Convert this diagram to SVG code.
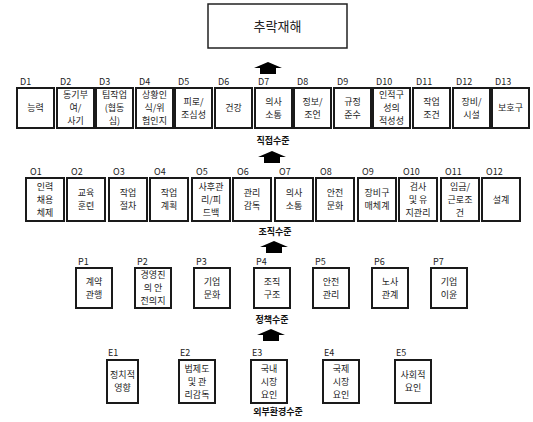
<svg xmlns="http://www.w3.org/2000/svg" width="533" height="422" viewBox="0 0 533 422">
<style>
.b{fill:#fff;stroke:#1a1a1a;stroke-width:2}
.t{font-family:"Noto Sans CJK KR","Noto Sans",sans-serif;font-size:9px;fill:#222;text-anchor:middle}
.l{font-family:"Noto Sans CJK KR","Noto Sans",sans-serif;font-size:9px;fill:#222}
.h{font-family:"Noto Sans CJK KR","Noto Sans",sans-serif;font-size:9px;font-weight:bold;fill:#111;text-anchor:middle}
.a{fill:#000}
</style>
<defs>
<polygon id="arr" points="0,0 14,6 8,6 8,12 -8,12 -8,6 -14,6"/>
</defs>
<rect width="533" height="422" fill="#fff"/>
<g id="top">
<rect x="208" y="4" width="139" height="44" fill="#fff" stroke="#222" stroke-width="1.5"/>
<text x="277.5" y="30.5" class="t" style="font-size:13px">추락재해</text>
</g>
<g id="connectors">
<use href="#arr" x="268" y="62" class="a"/>
<use href="#arr" x="272" y="151" class="a"/>
<use href="#arr" x="274" y="241" class="a"/>
<use href="#arr" x="271" y="329" class="a"/>
</g>
<g id="levels">
<text x="273" y="144" class="h">직접수준</text>
<text x="275" y="235" class="h">조직수준</text>
<text x="272" y="323" class="h">정책수준</text>
<text x="278" y="415" class="h">외부환경수준</text>
</g>
<g id="D1"><text x="20" y="85" class="l">D1</text><rect x="17" y="88" width="37" height="40" class="b"/><text x="35.5" y="111.3" class="t">능력</text></g>
<g id="D2"><text x="60" y="85" class="l">D2</text><rect x="57" y="88" width="37" height="40" class="b"/><text class="t"><tspan x="75.5" y="98.3">동기부</tspan><tspan x="75.5" y="111.3">여/</tspan><tspan x="75.5" y="124.3">사기</tspan></text></g>
<g id="D3"><text x="99" y="85" class="l">D3</text><rect x="96" y="88" width="37" height="40" class="b"/><text class="t"><tspan x="114.5" y="98.3">팀작업</tspan><tspan x="114.5" y="111.3">(협동</tspan><tspan x="114.5" y="124.3">심)</tspan></text></g>
<g id="D4"><text x="139" y="85" class="l">D4</text><rect x="136" y="88" width="37" height="40" class="b"/><text class="t"><tspan x="154.5" y="98.3">상황인</tspan><tspan x="154.5" y="111.3">식/위</tspan><tspan x="154.5" y="124.3">험인지</tspan></text></g>
<g id="D5"><text x="178" y="85" class="l">D5</text><rect x="175" y="88" width="37" height="40" class="b"/><text class="t"><tspan x="193.5" y="104.8">피로/</tspan><tspan x="193.5" y="117.8">조심성</tspan></text></g>
<g id="D6"><text x="218" y="85" class="l">D6</text><rect x="215" y="88" width="37" height="40" class="b"/><text x="233.5" y="111.3" class="t">건강</text></g>
<g id="D7"><text x="258" y="85" class="l">D7</text><rect x="255" y="88" width="37" height="40" class="b"/><text class="t"><tspan x="273.5" y="104.8">의사</tspan><tspan x="273.5" y="117.8">소통</tspan></text></g>
<g id="D8"><text x="297" y="85" class="l">D8</text><rect x="294" y="88" width="37" height="40" class="b"/><text class="t"><tspan x="312.5" y="104.8">정보/</tspan><tspan x="312.5" y="117.8">조언</tspan></text></g>
<g id="D9"><text x="337" y="85" class="l">D9</text><rect x="334" y="88" width="37" height="40" class="b"/><text class="t"><tspan x="352.5" y="104.8">규정</tspan><tspan x="352.5" y="117.8">준수</tspan></text></g>
<g id="D10"><text x="376" y="85" class="l">D10</text><rect x="373" y="88" width="37" height="40" class="b"/><text class="t"><tspan x="391.5" y="98.3">인적구</tspan><tspan x="391.5" y="111.3">성의</tspan><tspan x="391.5" y="124.3">적성성</tspan></text></g>
<g id="D11"><text x="416" y="85" class="l">D11</text><rect x="413" y="88" width="37" height="40" class="b"/><text class="t"><tspan x="431.5" y="104.8">작업</tspan><tspan x="431.5" y="117.8">조건</tspan></text></g>
<g id="D12"><text x="456" y="85" class="l">D12</text><rect x="453" y="88" width="37" height="40" class="b"/><text class="t"><tspan x="471.5" y="104.8">장비/</tspan><tspan x="471.5" y="117.8">시설</tspan></text></g>
<g id="D13"><text x="495" y="85" class="l">D13</text><rect x="492" y="88" width="37" height="40" class="b"/><text x="510.5" y="111.3" class="t">보호구</text></g>
<g id="O1"><text x="30" y="175" class="l">O1</text><rect x="26" y="178" width="38" height="43" class="b"/><text class="t"><tspan x="45" y="189.8">인력</tspan><tspan x="45" y="202.8">채용</tspan><tspan x="45" y="215.8">체제</tspan></text></g>
<g id="O2"><text x="71" y="175" class="l">O2</text><rect x="67" y="178" width="38" height="43" class="b"/><text class="t"><tspan x="86" y="196.3">교육</tspan><tspan x="86" y="209.3">훈련</tspan></text></g>
<g id="O3"><text x="113" y="175" class="l">O3</text><rect x="109" y="178" width="38" height="43" class="b"/><text class="t"><tspan x="128" y="196.3">작업</tspan><tspan x="128" y="209.3">절차</tspan></text></g>
<g id="O4"><text x="154" y="175" class="l">O4</text><rect x="150" y="178" width="38" height="43" class="b"/><text class="t"><tspan x="169" y="196.3">작업</tspan><tspan x="169" y="209.3">계획</tspan></text></g>
<g id="O5"><text x="196" y="175" class="l">O5</text><rect x="192" y="178" width="38" height="43" class="b"/><text class="t"><tspan x="211" y="189.8">사후관</tspan><tspan x="211" y="202.8">리/피</tspan><tspan x="211" y="215.8">드백</tspan></text></g>
<g id="O6"><text x="237" y="175" class="l">O6</text><rect x="233" y="178" width="38" height="43" class="b"/><text class="t"><tspan x="252" y="196.3">관리</tspan><tspan x="252" y="209.3">감독</tspan></text></g>
<g id="O7"><text x="279" y="175" class="l">O7</text><rect x="275" y="178" width="38" height="43" class="b"/><text class="t"><tspan x="294" y="196.3">의사</tspan><tspan x="294" y="209.3">소통</tspan></text></g>
<g id="O8"><text x="320" y="175" class="l">O8</text><rect x="316" y="178" width="38" height="43" class="b"/><text class="t"><tspan x="335" y="196.3">안전</tspan><tspan x="335" y="209.3">문화</tspan></text></g>
<g id="O9"><text x="362" y="175" class="l">O9</text><rect x="358" y="178" width="38" height="43" class="b"/><text class="t"><tspan x="377" y="196.3">장비구</tspan><tspan x="377" y="209.3">매체계</tspan></text></g>
<g id="O10"><text x="403" y="175" class="l">O10</text><rect x="399" y="178" width="38" height="43" class="b"/><text class="t"><tspan x="418" y="189.8">검사</tspan><tspan x="418" y="202.8">및 유</tspan><tspan x="418" y="215.8">지관리</tspan></text></g>
<g id="O11"><text x="445" y="175" class="l">O11</text><rect x="441" y="178" width="38" height="43" class="b"/><text class="t"><tspan x="460" y="189.8">임금/</tspan><tspan x="460" y="202.8">근로조</tspan><tspan x="460" y="215.8">건</tspan></text></g>
<g id="O12"><text x="486" y="175" class="l">O12</text><rect x="482" y="178" width="38" height="43" class="b"/><text x="501" y="202.8" class="t">설계</text></g>
<g id="P1"><text x="78" y="265" class="l">P1</text><rect x="76" y="268" width="36" height="40" class="b"/><text class="t"><tspan x="94" y="284.8">계약</tspan><tspan x="94" y="297.8">관행</tspan></text></g>
<g id="P2"><text x="137" y="265" class="l">P2</text><rect x="135" y="268" width="36" height="40" class="b"/><text class="t"><tspan x="153" y="278.3">경영진</tspan><tspan x="153" y="291.3">의 안</tspan><tspan x="153" y="304.3">전의지</tspan></text></g>
<g id="P3"><text x="196" y="265" class="l">P3</text><rect x="194" y="268" width="36" height="40" class="b"/><text class="t"><tspan x="212" y="284.8">기업</tspan><tspan x="212" y="297.8">문화</tspan></text></g>
<g id="P4"><text x="256" y="265" class="l">P4</text><rect x="254" y="268" width="36" height="40" class="b"/><text class="t"><tspan x="272" y="284.8">조직</tspan><tspan x="272" y="297.8">구조</tspan></text></g>
<g id="P5"><text x="315" y="265" class="l">P5</text><rect x="313" y="268" width="36" height="40" class="b"/><text class="t"><tspan x="331" y="284.8">안전</tspan><tspan x="331" y="297.8">관리</tspan></text></g>
<g id="P6"><text x="374" y="265" class="l">P6</text><rect x="372" y="268" width="36" height="40" class="b"/><text class="t"><tspan x="390" y="284.8">노사</tspan><tspan x="390" y="297.8">관계</tspan></text></g>
<g id="P7"><text x="433" y="265" class="l">P7</text><rect x="431" y="268" width="36" height="40" class="b"/><text class="t"><tspan x="449" y="284.8">기업</tspan><tspan x="449" y="297.8">이윤</tspan></text></g>
<g id="E1"><text x="108" y="356" class="l">E1</text><rect x="107" y="360" width="31" height="43" class="b"/><text class="t"><tspan x="122.5" y="378.3">정치적</tspan><tspan x="122.5" y="391.3">영향</tspan></text></g>
<g id="E2"><text x="180" y="356" class="l">E2</text><rect x="179" y="360" width="36" height="43" class="b"/><text class="t"><tspan x="197" y="371.8">법제도</tspan><tspan x="197" y="384.8">및 관</tspan><tspan x="197" y="397.8">리감독</tspan></text></g>
<g id="E3"><text x="252" y="356" class="l">E3</text><rect x="251" y="360" width="36" height="43" class="b"/><text class="t"><tspan x="269" y="371.8">국내</tspan><tspan x="269" y="384.8">시장</tspan><tspan x="269" y="397.8">요인</tspan></text></g>
<g id="E4"><text x="324" y="356" class="l">E4</text><rect x="323" y="360" width="36" height="43" class="b"/><text class="t"><tspan x="341" y="371.8">국제</tspan><tspan x="341" y="384.8">시장</tspan><tspan x="341" y="397.8">요인</tspan></text></g>
<g id="E5"><text x="396" y="356" class="l">E5</text><rect x="395" y="360" width="36" height="43" class="b"/><text class="t"><tspan x="413" y="378.3">사회적</tspan><tspan x="413" y="391.3">요인</tspan></text></g>
</svg>
